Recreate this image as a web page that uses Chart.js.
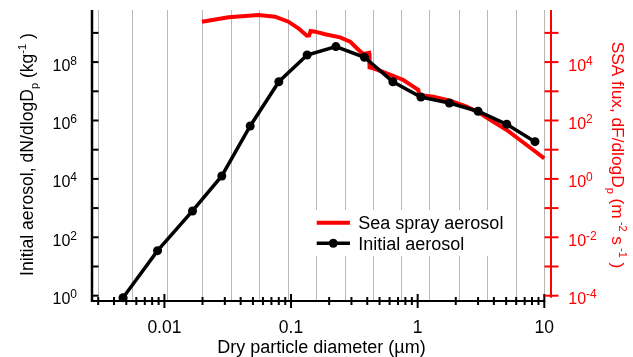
<!DOCTYPE html>
<html>
<head>
<meta charset="utf-8">
<script src="https://cdn.jsdelivr.net/npm/chart.js@4/dist/chart.umd.min.js"></script>
<style>
  html, body { margin: 0; padding: 0; background: #ffffff; }
  canvas { display: block; }
</style>
</head>
<body>
<canvas id="c" width="633" height="357"></canvas>
<script>
// Initial aerosol size distribution (model bins)
const initialDiameter = [0.00471, 0.00883, 0.01667, 0.0284, 0.0476, 0.0801, 0.134, 0.226, 0.380, 0.637, 1.06, 1.78, 3.00, 5.05, 8.45];
const initialNumber   = [0.855, 34.8, 796, 1.26e4, 6.48e5, 2.13e7, 1.75e8, 3.4e8, 1.46e8, 2.13e7, 6.38e6, 3.97e6, 2.07e6, 7.41e5, 1.88e5];

// Sea spray source function
const seaSprayDiameter = [0.0198, 0.0321, 0.0553, 0.0749, 0.0953, 0.1143, 0.1333, 0.139, 0.1428, 0.155, 0.186, 0.244, 0.293, 0.331, 0.371, 0.413, 0.417, 0.447, 0.570, 0.771, 0.925, 1.013, 1.026, 1.33, 1.80, 2.44, 3.11, 3.96, 5.05, 6.43, 8.19, 10];
const seaSprayFlux     = [2.42e5, 3.42e5, 4.10e5, 3.59e5, 2.42e5, 1.44e5, 8.0e4, 8.15e4, 1.16e5, 1.10e5, 8.96e4, 7.06e4, 5.0e4, 2.97e4, 1.89e4, 2.05e4, 6.53e3, 6.13e3, 4.13e3, 2.44e3, 1.44e3, 1.11e3, 747, 653, 476, 297, 176, 91, 47.3, 21.5, 9.77, 5.07];

// Bin edges shown as vertical grid lines
const gridDiameters = [0.003, 0.00564, 0.01057, 0.0201, 0.0337, 0.0563, 0.0955, 0.160, 0.267, 0.447, 0.750, 1.25, 2.13, 3.55, 5.98, 10];

// Tick labels
const xTickLabels = ['0.01', '0.1', '1', '10'];
const leftTickExponents = [0, 2, 4, 6, 8];
const rightTickExponents = [-4, -2, 0, 2, 4];

const FONT = '"Liberation Sans", Arial, Helvetica, sans-serif';
const RED = '#ff0000';

function fontOf(size) { return size + 'px ' + FONT; }

// Draw a run of text with superscript/subscript pieces
function drawRich(ctx, segs, x, y, align, base, small) {
  const sizes = { n: base, sup: small, sub: small };
  const shift = { n: 0, sup: -Math.round(base * 0.42), sub: Math.round(base * 0.28) };
  let total = 0;
  const widths = segs.map(([t, k]) => { ctx.font = fontOf(sizes[k]); const w = ctx.measureText(t).width; total += w; return w; });
  let cx = align === 'center' ? x - total / 2 : (align === 'right' ? x - total : x);
  ctx.textAlign = 'left';
  ctx.textBaseline = 'alphabetic';
  segs.forEach(([t, k], i) => {
    ctx.font = fontOf(sizes[k]);
    ctx.fillText(t, cx, y + shift[k]);
    cx += widths[i];
  });
}

// Power-of-ten tick label: base digits sit a little below the tick, exponent raised
function drawPow10(ctx, exp, x, y, align) {
  const base = '10', sup = String(exp);
  ctx.font = fontOf(16);
  const wb = ctx.measureText(base).width;
  ctx.font = fontOf(12);
  const ws = ctx.measureText(sup).width;
  let cx = align === 'right' ? x - wb - ws : x;
  ctx.textAlign = 'left';
  ctx.textBaseline = 'alphabetic';
  ctx.font = fontOf(16);
  ctx.fillText(base, cx, y + 8.5);
  ctx.font = fontOf(12);
  ctx.fillText(sup, cx + wb, y + 2.5);
}

const decorPlugin = {
  id: 'decor',
  afterDatasetsDraw(chart) {
    // legend
    const ctx = chart.ctx;
    const lx = 314, ly = 210;
    ctx.save();
    ctx.fillStyle = '#ffffff';
    ctx.fillRect(lx, ly, 196, 46);
    const rows = chart.data.datasets;
    rows.forEach((ds, i) => {
      const yy = 222.7 + i * 20.6;
      ctx.strokeStyle = ds.borderColor;
      ctx.lineWidth = ds.borderWidth;
      ctx.beginPath();
      ctx.moveTo(316.7, yy);
      ctx.lineTo(350, yy);
      ctx.stroke();
      if (ds.pointRadius > 0) {
        ctx.fillStyle = ds.pointBackgroundColor;
        ctx.beginPath();
        ctx.arc(333.3, yy, ds.pointRadius, 0, Math.PI * 2);
        ctx.fill();
      }
      ctx.fillStyle = '#000000';
      ctx.font = fontOf(18);
      ctx.textAlign = 'left';
      ctx.textBaseline = 'alphabetic';
      ctx.fillText(ds.label, 358.3, yy + 6.3);
    });
    ctx.restore();
  },
  afterDraw(chart) {
    const ctx = chart.ctx;
    const area = chart.chartArea;
    const xs = chart.scales.x, yl = chart.scales.yL, yr = chart.scales.yR;
    ctx.save();

    // axis lines
    const xEnd = xs.getPixelForValue(10) + 1;
    ctx.strokeStyle = '#000000';
    ctx.lineWidth = 2;
    ctx.beginPath();
    ctx.moveTo(area.left - 1, area.bottom);
    ctx.lineTo(xEnd, area.bottom);
    ctx.stroke();
    ctx.lineWidth = 2.5;
    ctx.beginPath();
    ctx.moveTo(area.left, area.top);
    ctx.lineTo(area.left, area.bottom + 1);
    ctx.stroke();
    ctx.strokeStyle = RED;
    ctx.lineWidth = 2;
    ctx.beginPath();
    ctx.moveTo(area.right, area.top);
    ctx.lineTo(area.right, yr.getPixelForValue(1e-4) + 2);
    ctx.stroke();

    // x ticks: decades and minor
    ctx.strokeStyle = '#000000';
    ctx.lineWidth = 2;
    for (let e = -3; e <= 1; e++) {
      for (let k = 1; k <= 9; k++) {
        const v = k * Math.pow(10, e);
        if (v < xs.min || v > 10.0001) continue;
        const px = xs.getPixelForValue(v);
        const len = k === 1 ? 7 : 4;
        ctx.beginPath();
        ctx.moveTo(px, area.bottom - len);
        ctx.lineTo(px, area.bottom + len);
        ctx.stroke();
      }
    }
    // left ticks
    for (let e = 0; e <= 9; e++) {
      const py = yl.getPixelForValue(Math.pow(10, e));
      ctx.beginPath();
      ctx.moveTo(area.left, py);
      ctx.lineTo(area.left + 6.5, py);
      ctx.stroke();
    }
    // right ticks
    ctx.strokeStyle = RED;
    for (let e = -4; e <= 5; e++) {
      const py = yr.getPixelForValue(Math.pow(10, e));
      ctx.beginPath();
      ctx.moveTo(area.right - 6.5, py);
      ctx.lineTo(area.right + 7.5, py);
      ctx.stroke();
    }

    // tick labels
    ctx.fillStyle = '#000000';
    ctx.font = fontOf(17.5);
    ctx.textAlign = 'center';
    ctx.textBaseline = 'alphabetic';
    xTickLabels.forEach(t => {
      const px = xs.getPixelForValue(parseFloat(t));
      ctx.fillText(t, px, 333.3);
    });
    leftTickExponents.forEach(e => {
      drawPow10(ctx, e, 77, yl.getPixelForValue(Math.pow(10, e)), 'right');
    });
    ctx.fillStyle = RED;
    rightTickExponents.forEach(e => {
      drawPow10(ctx, e, 568.3, yr.getPixelForValue(Math.pow(10, e)), 'left');
    });

    // axis titles
    ctx.fillStyle = '#000000';
    drawRich(ctx, [['Dry particle diameter (\u00b5m)', 'n']], (area.left + area.right) / 2, 352.7, 'center', 18, 11);

    ctx.save();
    ctx.translate(32.7, 154.5);
    ctx.rotate(-Math.PI / 2);
    drawRich(ctx, [['Initial aerosol, dN/dlogD', 'n'], ['p', 'sub'], [' (kg', 'n'], ['-1', 'sup'], [' )', 'n']], 0, 0, 'center', 17.6, 11);
    ctx.restore();

    ctx.save();
    ctx.fillStyle = RED;
    ctx.translate(611.7, 155);
    ctx.rotate(Math.PI / 2);
    drawRich(ctx, [['SSA flux, dF/dlogD', 'n'], ['p', 'sub'], [' (m', 'n'], [' -2', 'sup'], [' s', 'n'], [' -1', 'sup'], [' )', 'n']], 0, 0, 'center', 17.3, 11);
    ctx.restore();

    ctx.restore();
  }
};

const xMin = 0.00268, xMax = 11.3;
const yLeftMin = 0.658, yLeftMax = 6.08e9;
const yRightMin = 0.658e-4, yRightMax = 6.08e5;

new Chart(document.getElementById('c'), {
  type: 'line',
  data: {
    datasets: [
      {
        label: 'Sea spray aerosol',
        data: seaSprayDiameter.map((d, i) => ({ x: d, y: seaSprayFlux[i] })),
        yAxisID: 'yR',
        borderColor: RED,
        borderWidth: 4,
        pointRadius: 0,
        pointBackgroundColor: RED,
        tension: 0,
        order: 1
      },
      {
        label: 'Initial aerosol',
        data: initialDiameter.map((d, i) => ({ x: d, y: initialNumber[i] })),
        yAxisID: 'yL',
        borderColor: '#000000',
        borderWidth: 3.5,
        pointRadius: 4.5,
        pointBackgroundColor: '#000000',
        pointBorderWidth: 0,
        pointHoverRadius: 4.5,
        tension: 0,
        clip: 10,
        order: 0
      }
    ]
  },
  options: {
    responsive: false,
    animation: false,
    devicePixelRatio: 1,
    events: [],
    layout: { padding: { left: 92, right: 82, top: 10, bottom: 56 } },
    plugins: { legend: { display: false }, tooltip: { enabled: false } },
    scales: {
      x: {
        type: 'logarithmic', position: 'bottom', min: xMin, max: xMax,
        grid: { display: false, drawTicks: false },
        border: { display: false },
        ticks: { display: false }
      },
      xg: {
        type: 'logarithmic', position: 'bottom', min: xMin, max: xMax,
        grid: { display: true, drawTicks: false, color: '#b8b8b8', lineWidth: 1 },
        border: { display: false },
        ticks: { display: false },
        afterBuildTicks: s => { s.ticks = gridDiameters.map(v => ({ value: v })); }
      },
      yL: {
        type: 'logarithmic', position: 'left', min: yLeftMin, max: yLeftMax,
        grid: { display: false, drawTicks: false },
        border: { display: false },
        ticks: { display: false }
      },
      yR: {
        type: 'logarithmic', position: 'right', min: yRightMin, max: yRightMax,
        grid: { display: false, drawTicks: false },
        border: { display: false },
        ticks: { display: false }
      }
    }
  },
  plugins: [decorPlugin]
});
</script>
</body>
</html>
